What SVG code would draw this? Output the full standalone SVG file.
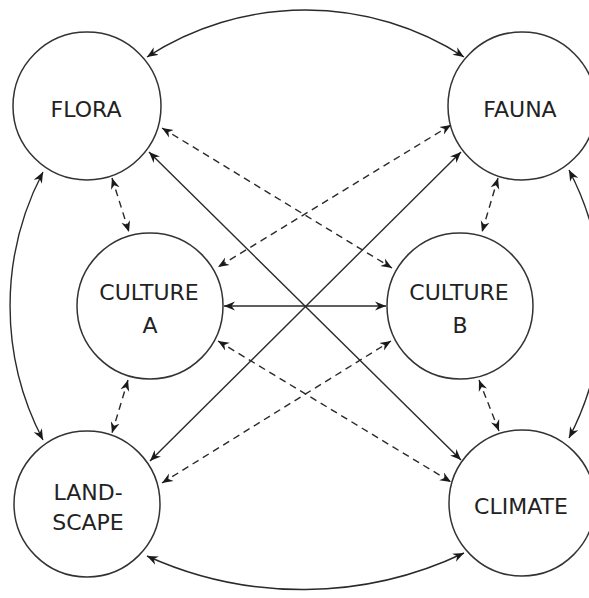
<svg xmlns="http://www.w3.org/2000/svg" width="589" height="598" viewBox="0 0 589 598">
<style>
.node circle{fill:#fff;stroke:#333;stroke-width:1.5}
.node text{font-family:"DejaVu Sans",sans-serif;font-size:22px;fill:#222;text-anchor:middle}
.c{fill:none;stroke:#2a2a2a;stroke-width:1.4;marker-start:url(#ah);marker-end:url(#ah)}
.d{stroke-dasharray:7 5}
</style>
<defs>
<marker id="ah" markerUnits="userSpaceOnUse" markerWidth="12" markerHeight="10" refX="11" refY="5" orient="auto-start-reverse">
<path d="M0,0.5 L11,5 L0,9.5 L3.5,5 z" fill="#1a1a1a"/>
</marker>
</defs>
<rect width="589" height="598" fill="#fff"/>
<g id="connectors">
<path class="c" d="M147,57 A291,291 0 0 1 464,57"/>
<path class="c" d="M147,556 A376,376 0 0 0 464,553"/>
<path class="c" d="M43,172 A289,289 0 0 0 43,440"/>
<path class="c" d="M569,170 A289,289 0 0 1 569,438"/>
<path class="c" d="M224,306 L386,306"/>
<path class="c" d="M149,152 L461,460"/>
<path class="c" d="M150,461 L461,152"/>
<path class="c d" d="M112,178 L129,232"/>
<path class="c d" d="M498,178 L482,232"/>
<path class="c d" d="M128,380 L112,433"/>
<path class="c d" d="M479,380 L499,431"/>
<path class="c d" d="M162,128 L392,268"/>
<path class="c d" d="M451,125 L218,267"/>
<path class="c d" d="M218,341 L451,482"/>
<path class="c d" d="M162,483 L391,341"/>
</g>
<g id="flora" class="node"><circle cx="87" cy="106" r="74"/><text x="86" y="117">FLORA</text></g>
<g id="fauna" class="node"><circle cx="522" cy="106" r="74"/><text x="520" y="117">FAUNA</text></g>
<g id="culture-a" class="node"><circle cx="150" cy="306" r="73"/><text x="149" y="300">CULTURE</text><text x="150" y="333">A</text></g>
<g id="culture-b" class="node"><circle cx="460" cy="306" r="73"/><text x="459" y="300">CULTURE</text><text x="460" y="333">B</text></g>
<g id="landscape" class="node"><circle cx="87" cy="504" r="73"/><text x="88" y="500">LAND-</text><text x="88" y="530">SCAPE</text></g>
<g id="climate" class="node"><circle cx="522" cy="503" r="73"/><text x="521" y="514">CLIMATE</text></g>
</svg>
